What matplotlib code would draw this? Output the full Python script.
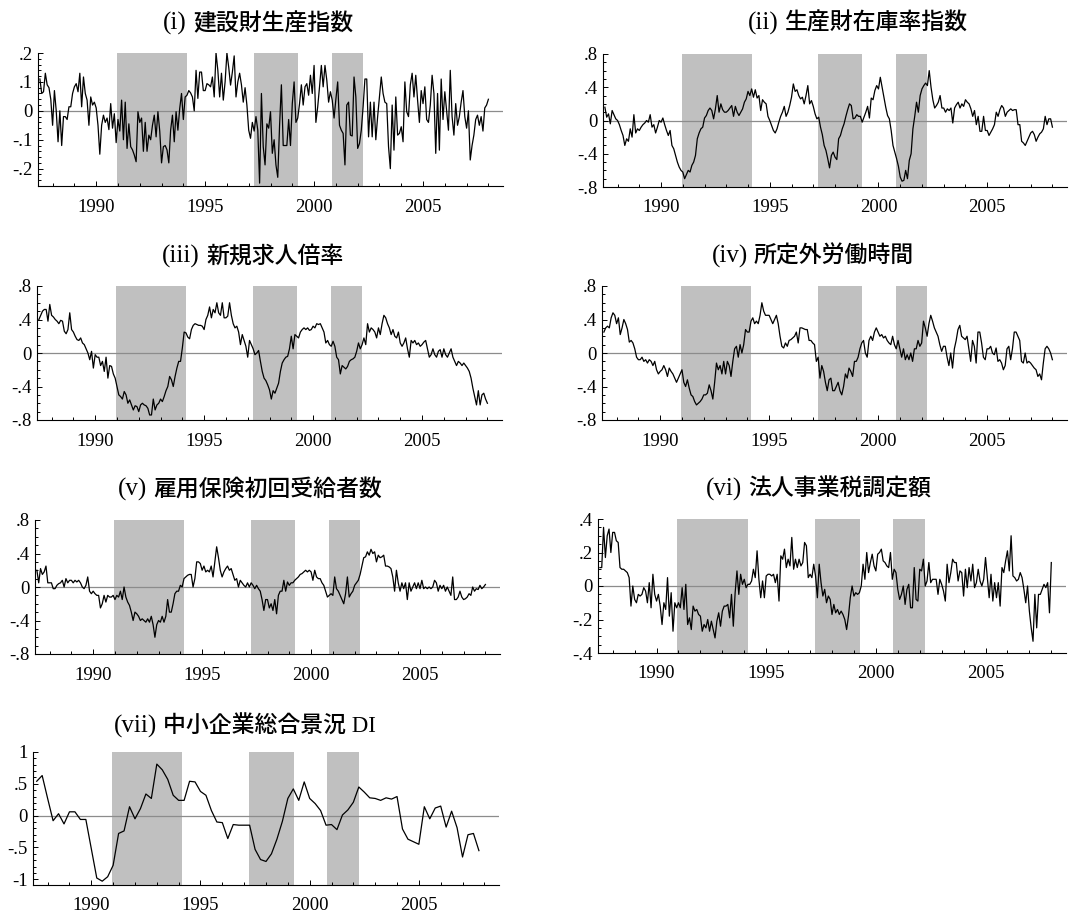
import numpy as np
import matplotlib.pyplot as plt
from matplotlib.ticker import FixedLocator, MultipleLocator, FuncFormatter

plt.rcParams['font.family'] = ['Liberation Serif', 'Noto Sans CJK JP']
plt.rcParams['axes.unicode_minus'] = False

# recession periods, decimal years
recessions = [(1990.95, 1994.16), (1997.24, 1999.26), (2000.80, 2002.24)]

# monthly series, Jun 1987 .. Jan 2008 (one row per calendar year)
construction = [
    0.11, 0.06, 0.066, 0.13, 0.09, 0.08, 0.04,
    -0.05, 0.07, 0.0, -0.107, 0.0, -0.12, -0.02, -0.02, -0.03, 0.014, 0.014, 0.06,
    0.083, 0.094, 0.066, 0.13, 0.014, 0.117, 0.06, 0.037, -0.05, 0.048, 0.02, 0.03,
    0.01, -0.05, -0.15, -0.05, -0.015, -0.04, -0.025, -0.065, 0.025, -0.06, -0.01, -0.11,
    -0.03, -0.07, 0.037, -0.1, 0.03, -0.13, -0.045, -0.124, -0.135, -0.153, -0.176, -0.003,
    -0.04, -0.025, -0.14, -0.04, -0.14, -0.084, -0.1, -0.05, -0.015, -0.09, -0.003, -0.07,
    -0.18, -0.124, -0.12, -0.135, -0.18, -0.067, -0.015, -0.107, -0.003, -0.067, 0.008, 0.06,
    -0.03, 0.048, 0.054, 0.07, 0.062, 0.048, 0.0, 0.14, 0.043, 0.134, 0.134, 0.07,
    0.07, 0.094, 0.09, 0.083, 0.117, 0.048, 0.2, 0.14, 0.048, 0.13, 0.037, 0.1,
    0.2, 0.15, 0.089, 0.134, 0.19, 0.048, 0.10, 0.13, 0.09, 0.03, 0.08, 0.02,
    -0.067, -0.095, -0.04, -0.07, -0.02, -0.067, -0.25, 0.06, -0.124, -0.187, -0.045, -0.06,
    -0.003, -0.147, -0.1, -0.187, -0.23, -0.05, 0.09, -0.12, -0.12, -0.12, -0.03, -0.12,
    0.025, 0.1, -0.04, -0.025, 0.025, 0.09, 0.02, 0.083, 0.094, 0.054, 0.123, 0.06,
    0.157, -0.04, 0.014, 0.083, 0.157, 0.083, 0.157, 0.106, 0.03, 0.066, 0.037, -0.025,
    0.04, 0.1, -0.05, -0.067, -0.078, -0.187, 0.02, 0.03, -0.084, -0.087, 0.117, 0.048,
    -0.13, -0.113, -0.067, 0.014, 0.11, 0.11, -0.09, 0.03, -0.09, 0.03, -0.1, -0.02,
    0.048, 0.117, 0.06, 0.03, 0.025, -0.124, -0.2, 0.02, -0.136, 0.048, -0.084, -0.078,
    -0.055, -0.107, 0.1, -0.003, -0.02, 0.09, 0.13, 0.048, 0.123, 0.037, -0.04, 0.07,
    0.025, 0.083, -0.03, -0.04, 0.02, 0.123, 0.06, -0.147, 0.06, -0.136, 0.11, -0.03,
    0.066, 0.0, -0.067, 0.14, -0.02, -0.084, 0.025, -0.05, -0.02, 0.03, 0.07, -0.02,
    -0.06, 0.0, -0.17, -0.12, -0.084, -0.03, -0.015, -0.05, -0.02, -0.07, 0.01, 0.02,
    0.04,
]

inventory = [
    0.16, 0.04, 0.08, -0.04, 0.12, 0.07, 0.02,
    0.0, -0.05, -0.12, -0.18, -0.3, -0.22, -0.25, -0.1, -0.2, 0.07, -0.15, -0.1,
    -0.12, -0.08, -0.05, -0.03, 0.0, -0.02, 0.07, -0.08, -0.05, -0.15, -0.08, 0.0,
    -0.02, 0.03, -0.05, -0.12, -0.18, -0.12, -0.3, -0.34, -0.42, -0.5, -0.56, -0.6,
    -0.62, -0.7, -0.65, -0.6, -0.62, -0.54, -0.5, -0.42, -0.22, -0.15, -0.1, -0.08,
    0.03, 0.06, 0.12, 0.15, 0.12, 0.02, 0.14, 0.3, 0.1, 0.2, 0.13, 0.1,
    0.1, 0.12, 0.15, 0.18, 0.05, 0.17, 0.1, 0.06, 0.1, 0.14, 0.22, 0.26,
    0.35, 0.3, 0.38, 0.28, 0.37, 0.27, 0.3, 0.12, 0.25, 0.22, 0.2, 0.05,
    0.0, -0.06, -0.12, -0.15, -0.1, -0.02, 0.05, 0.1, 0.17, 0.05, 0.1, 0.18,
    0.28, 0.44, 0.35, 0.37, 0.3, 0.26, 0.28, 0.2, 0.3, 0.42, 0.2, 0.24,
    0.17, 0.08, 0.02, 0.04, -0.08, -0.17, -0.3, -0.36, -0.46, -0.57, -0.42, -0.38,
    -0.44, -0.47, -0.22, -0.18, -0.1, -0.04, 0.05, 0.13, 0.2, 0.18, 0.02, 0.03,
    0.07, 0.05, 0.05, -0.02, 0.04, 0.1, 0.17, 0.03, 0.27, 0.25, 0.36, 0.42,
    0.38, 0.52, 0.4, 0.28, 0.16, 0.06, 0.02, -0.12, -0.3, -0.38, -0.46, -0.55,
    -0.68, -0.73, -0.72, -0.6, -0.7, -0.48, -0.4, -0.1, 0.05, 0.22, 0.1, 0.3,
    0.38, 0.42, 0.45, 0.42, 0.6, 0.4, 0.25, 0.15, 0.18, 0.22, 0.3, 0.15,
    0.15, 0.1, 0.14, 0.12, 0.15, -0.03, 0.15, 0.19, 0.22, 0.15, 0.2, 0.17,
    0.25, 0.22, 0.2, 0.14, 0.05, 0.12, -0.05, 0.05, -0.13, -0.13, 0.05, -0.12,
    -0.12, -0.18, -0.14, -0.1, -0.05, 0.1, 0.05, 0.13, 0.18, 0.15, 0.05, 0.1,
    0.12, 0.14, 0.12, 0.13, 0.13, -0.05, -0.05, -0.25, -0.27, -0.3, -0.25, -0.2,
    -0.15, -0.13, -0.17, -0.25, -0.2, -0.16, -0.14, -0.1, 0.05, -0.05, 0.02, 0.02,
    -0.08,
]

job_offers = [
    0.40, 0.45, 0.50, 0.52, 0.52, 0.38, 0.58,
    0.45, 0.43, 0.40, 0.38, 0.35, 0.39, 0.38, 0.26, 0.23, 0.28, 0.48, 0.28,
    0.25, 0.2, 0.16, 0.15, 0.18, 0.12, 0.1, 0.05, 0.0, -0.08, 0.02, -0.18,
    -0.02, -0.05, -0.05, -0.15, -0.1, -0.22, -0.05, -0.3, -0.15, -0.16, -0.25, -0.3,
    -0.4, -0.5, -0.52, -0.55, -0.46, -0.5, -0.6, -0.56, -0.62, -0.68, -0.63, -0.64,
    -0.7, -0.62, -0.6, -0.62, -0.63, -0.66, -0.74, -0.74, -0.55, -0.68, -0.62, -0.6,
    -0.55, -0.58, -0.52, -0.45, -0.4, -0.28, -0.32, -0.4, -0.28, -0.18, -0.1, -0.1,
    0.06, 0.25, 0.24, 0.19, 0.17, 0.28, 0.33, 0.35, 0.34, 0.33, 0.33, 0.32,
    0.28, 0.4, 0.45, 0.55, 0.42, 0.52, 0.48, 0.6, 0.48, 0.45, 0.6, 0.42,
    0.42, 0.44, 0.6, 0.45, 0.35, 0.3, 0.32, 0.25, 0.1, 0.22, 0.15, 0.08,
    -0.05, 0.15, 0.1, 0.05, -0.02, 0.0, 0.03, -0.1, -0.22, -0.3, -0.33, -0.38,
    -0.44, -0.55, -0.45, -0.48, -0.42, -0.36, -0.22, -0.12, -0.08, -0.05, -0.04, 0.05,
    0.2, 0.05, 0.22, 0.2, 0.18, 0.25, 0.28, 0.3, 0.28, 0.3, 0.27, 0.28,
    0.32, 0.3, 0.35, 0.34, 0.35, 0.3, 0.25, 0.12, 0.15, 0.1, 0.08, 0.14,
    0.08, -0.05, -0.08, -0.25, -0.15, -0.17, -0.19, -0.16, -0.1, -0.08, -0.07, -0.05,
    0.02, 0.12, 0.05, 0.1, 0.18, 0.1, 0.35, 0.25, 0.3, 0.28, 0.25, 0.18,
    0.3, 0.22, 0.35, 0.45, 0.42, 0.35, 0.3, 0.22, 0.28, 0.2, 0.18, 0.25,
    0.12, 0.08, 0.12, 0.18, 0.05, -0.05, 0.15, 0.12, 0.15, 0.1, 0.12, 0.08,
    0.1, 0.13, 0.15, 0.05, -0.05, -0.02, 0.05, -0.02, -0.05, 0.02, 0.04, -0.05,
    0.05, -0.02, -0.05, 0.0, 0.05, -0.05, -0.1, -0.15, -0.1, -0.12, -0.15, -0.12,
    -0.15, -0.18, -0.22, -0.3, -0.42, -0.52, -0.62, -0.45, -0.62, -0.5, -0.48, -0.55,
    -0.6,
]

overtime = [
    0.25, 0.3, 0.32, 0.3, 0.42, 0.48, 0.45,
    0.35, 0.42, 0.22, 0.3, 0.4, 0.35, 0.28, 0.13, 0.15, 0.12, 0.05, -0.05,
    -0.08, -0.08, -0.05, -0.1, -0.08, -0.12, -0.08, -0.1, -0.15, -0.1, -0.2, -0.25,
    -0.22, -0.2, -0.15, -0.2, -0.28, -0.18, -0.22, -0.25, -0.3, -0.35, -0.3, -0.25,
    -0.2, -0.35, -0.4, -0.32, -0.42, -0.5, -0.52, -0.58, -0.62, -0.6, -0.58, -0.55,
    -0.5, -0.5, -0.48, -0.38, -0.45, -0.55, -0.35, -0.12, -0.2, -0.15, -0.25, -0.1,
    -0.25, -0.1, -0.15, -0.28, -0.1, 0.05, 0.08, -0.05, 0.1, 0.0, 0.1, 0.28,
    0.25, 0.25, 0.38, 0.42, 0.35, 0.38, 0.35, 0.45, 0.6, 0.5, 0.45, 0.45,
    0.45, 0.4, 0.35, 0.4, 0.45, 0.35, 0.2, 0.08, 0.06, 0.12, 0.08, 0.15,
    0.16, 0.18, 0.2, 0.25, 0.12, 0.3, 0.3, 0.29, 0.28, 0.28, 0.15, 0.15,
    0.12, 0.1, -0.1, -0.05, -0.3, -0.15, -0.22, -0.35, -0.45, -0.32, -0.3, -0.45,
    -0.45, -0.4, -0.35, -0.45, -0.5, -0.4, -0.25, -0.3, -0.18, -0.22, -0.28, -0.1,
    -0.1, -0.05, 0.05, 0.12, 0.15, 0.0, -0.05, 0.15, 0.2, 0.15, 0.25, 0.3,
    0.25, 0.2, 0.22, 0.18, 0.2, 0.15, 0.12, 0.1, 0.2, 0.1, 0.05, 0.15,
    0.05, -0.05, 0.05, -0.08, -0.02, -0.08, 0.0, -0.1, 0.05, 0.05, 0.15, 0.08,
    0.12, 0.38, 0.3, 0.2, 0.35, 0.45, 0.38, 0.3, 0.25, 0.2, 0.1, 0.02,
    0.08, 0.08, -0.05, -0.15, 0.0, -0.18, 0.05, 0.15, 0.28, 0.33, 0.2, 0.18,
    0.16, 0.2, 0.05, -0.1, 0.15, 0.08, -0.12, 0.25, 0.25, 0.12, -0.05, -0.08,
    0.05, 0.05, 0.08, 0.0, -0.02, 0.06, -0.1, -0.08, -0.12, -0.2, -0.15, 0.05,
    0.08, -0.08, 0.05, 0.25, 0.25, 0.2, 0.15, -0.1, -0.12, 0.0, -0.12, -0.1,
    -0.12, -0.15, -0.18, -0.2, -0.28, -0.25, -0.32, -0.12, 0.05, 0.08, 0.05, 0.0,
    -0.08,
]

insurance = [
    0.2, 0.05, 0.22, 0.15, 0.18, 0.25, 0.05,
    0.05, 0.05, -0.02, -0.02, 0.02, 0.04, 0.05, 0.08, 0.0, 0.1, 0.05, 0.08,
    0.08, 0.05, 0.08, 0.06, 0.08, 0.05, 0.0, -0.02, 0.02, 0.12, -0.05, -0.08,
    -0.05, -0.08, -0.1, -0.1, -0.25, -0.2, -0.1, -0.18, -0.1, -0.12, -0.12, -0.1,
    -0.15, -0.1, -0.12, -0.05, -0.15, 0.0, -0.12, -0.18, -0.22, -0.3, -0.4, -0.3,
    -0.32, -0.35, -0.4, -0.38, -0.4, -0.42, -0.38, -0.42, -0.35, -0.45, -0.6, -0.45,
    -0.4, -0.42, -0.35, -0.42, -0.35, -0.15, -0.3, -0.3, -0.2, -0.08, -0.05, -0.05,
    0.02, 0.0, 0.1, 0.12, 0.14, 0.15, 0.15, 0.0, 0.1, 0.3, 0.3, 0.28,
    0.2, 0.25, 0.18, 0.2, 0.18, 0.25, 0.12, 0.3, 0.48, 0.35, 0.2, 0.12,
    0.18, 0.22, 0.25, 0.2, 0.22, 0.15, 0.08, 0.1, 0.0, 0.08, 0.05, 0.02,
    0.0, 0.05, 0.0, 0.05, 0.02, -0.02, 0.02, -0.02, -0.05, -0.15, -0.28, -0.15,
    -0.15, -0.25, -0.2, -0.28, -0.15, -0.32, -0.1, -0.05, -0.05, 0.08, -0.05, 0.06,
    0.02, 0.05, 0.05, 0.08, 0.1, 0.12, 0.15, 0.16, 0.18, 0.2, 0.18, 0.2,
    0.18, 0.08, 0.2, 0.12, 0.1, 0.1, 0.05, 0.02, -0.05, -0.12, -0.1, -0.08,
    -0.1, 0.12, -0.02, -0.05, -0.1, -0.15, -0.2, -0.08, 0.12, -0.12, -0.08, -0.05,
    0.02, 0.05, 0.08, 0.15, 0.25, 0.35, 0.36, 0.42, 0.38, 0.45, 0.4, 0.42,
    0.3, 0.38, 0.35, 0.36, 0.38, 0.25, 0.25, 0.24, 0.22, 0.12, -0.05, 0.2,
    0.05, -0.05, 0.05, -0.02, 0.05, -0.15, 0.05, -0.05, 0.0, 0.05, -0.02, 0.05,
    -0.02, 0.08, -0.02, 0.0, -0.02, 0.0, -0.02, 0.0, 0.08, 0.05, -0.05, 0.02,
    -0.02, 0.02, -0.05, 0.0, -0.05, -0.1, 0.12, -0.15, -0.15, -0.12, -0.05, -0.12,
    -0.15, -0.14, -0.12, -0.08, -0.1, 0.0, -0.05, -0.02, -0.03, 0.02, -0.02, 0.0,
    0.03,
]

corp_tax = [
    0.11, 0.11, 0.35, 0.17, 0.30, 0.34, 0.20,
    0.32, 0.32, 0.27, 0.26, 0.11, 0.10, 0.10, 0.09, 0.08, 0.05, -0.12, 0.0,
    -0.08, -0.10, -0.05, -0.06, -0.05, -0.01, -0.03, -0.10, 0.02, -0.13, 0.07, -0.05,
    -0.09, -0.05, -0.12, -0.23, -0.10, -0.14, 0.05, -0.18, -0.04, -0.27, -0.10, -0.13,
    -0.10, -0.13, -0.01, -0.14, 0.01, -0.23, -0.19, -0.26, -0.12, -0.15, -0.14, -0.17,
    -0.18, -0.27, -0.23, -0.25, -0.20, -0.27, -0.21, -0.26, -0.31, -0.21, -0.16, -0.24,
    -0.15, -0.12, -0.12, -0.11, -0.19, -0.05, -0.24, -0.04, 0.09, -0.05, 0.07, 0.01,
    0.04, -0.01, 0.01, 0.01, 0.03, 0.10, 0.05, 0.21, 0.04, -0.07, 0.03, -0.07,
    0.06, 0.07, 0.07, 0.06, 0.07, 0.02, 0.07, -0.09, 0.18, 0.16, 0.22, 0.11,
    0.16, 0.12, 0.29, 0.10, 0.16, 0.11, 0.16, 0.12, 0.14, 0.26, 0.24, 0.05,
    0.07, 0.05, 0.13, 0.06, -0.07, 0.13, 0.02, -0.06, -0.02, -0.1, -0.06, -0.08,
    -0.17, -0.11, -0.16, -0.14, -0.17, -0.15, -0.17, -0.2, -0.26, -0.18, -0.07, 0.0,
    -0.06, -0.04, -0.05, -0.04, 0.0, 0.13, 0.04, 0.2, 0.08, 0.14, 0.19, 0.12,
    0.09, 0.19, 0.2, 0.22, 0.15, 0.14, 0.12, 0.11, 0.2, 0.04, 0.1, 0.08,
    -0.02, -0.08, -0.05, 0.0, -0.11, -0.02, 0.01, -0.13, -0.13, 0.11, -0.08, -0.09,
    0.1, 0.09, 0.16, 0.0, 0.03, 0.14, 0.02, 0.04, 0.04, 0.04, -0.05, 0.04,
    0.01, -0.03, -0.09, 0.13, 0.02, 0.08, 0.16, 0.14, 0.14, 0.03, 0.09, 0.08,
    -0.06, 0.1, -0.01, 0.11, 0.03, 0.13, -0.01, 0.02, 0.1, 0.03, 0.0, 0.04,
    0.17, 0.05, -0.07, 0.07, -0.09, 0.02, -0.07, 0.02, -0.12, 0.11, 0.08, 0.15,
    0.21, 0.09, 0.30, 0.06, 0.05, 0.03, 0.04, 0.08, 0.05, -0.02, -0.1, 0.0,
    -0.15, -0.25, -0.33, -0.05, -0.25, -0.05, -0.05, -0.02, 0.01, -0.01, 0.02, -0.16,
    0.14,
]

# quarterly series from 1987 Q3
sme_di = [
    0.54, 0.63, 0.27, -0.08, 0.03, -0.13, 0.06, 0.06, -0.06, -0.06,
    -0.52, -0.98, -1.03, -0.96, -0.78, -0.28, -0.24, 0.14, -0.05, 0.11,
    0.34, 0.27, 0.81, 0.72, 0.57, 0.32, 0.24, 0.24, 0.54, 0.53,
    0.38, 0.32, 0.08, -0.10, -0.11, -0.36, -0.14, -0.15, -0.15, -0.15,
    -0.53, -0.69, -0.72, -0.60, -0.37, -0.09, 0.27, 0.42, 0.24, 0.53,
    0.27, 0.19, 0.08, -0.15, -0.14, -0.22, 0.01, 0.09, 0.21, 0.45,
    0.37, 0.28, 0.27, 0.24, 0.28, 0.26, 0.30, -0.21, -0.37, -0.41,
    -0.45, 0.14, -0.05, 0.12, 0.15, -0.18, 0.07, -0.19, -0.65, -0.30,
    -0.28, -0.55,
]

numerals = ['(i)', '(ii)', '(iii)', '(iv)', '(v)', '(vi)', '(vii)']
names = ['建設財生産指数', '生産財在庫率指数', '新規求人倍率', '所定外労働時間',
         '雇用保険初回受給者数', '法人事業税調定額', '中小企業総合景況 DI']


def monthly(vals):
    return 1987 + 5 / 12 + np.arange(len(vals)) / 12


def quarterly(vals):
    return 1987.5 + np.arange(len(vals)) / 4


def short_label(v, pos):
    s = '%g' % round(v, 3)
    return s.replace('0.', '.')


W, H = 1090, 917
fig = plt.figure(figsize=(W / 100, H / 100), dpi=100)

# (series, x, ylim, major, minor, axes box l/t/r/b px, title split x / baseline px)
panels = [
    (construction, monthly, (-0.26, 0.2), 0.1, 0.02, (38, 53, 503, 186), (193, 30)),
    (inventory, monthly, (-0.8, 0.8), 0.4, 0.1, (603, 54, 1067, 187), (785, 30)),
    (job_offers, monthly, (-0.8, 0.8), 0.4, 0.1, (37, 286, 502, 420), (206, 263)),
    (overtime, monthly, (-0.8, 0.8), 0.4, 0.1, (602, 286, 1067, 420), (754, 263)),
    (insurance, monthly, (-0.8, 0.8), 0.4, 0.1, (35, 520, 500, 654), (153, 496)),
    (corp_tax, monthly, (-0.4, 0.4), 0.2, 0.05, (598, 519, 1066, 653), (748, 496)),
    (sme_di, quarterly, (-1.09, 1.0), 0.5, 0.1, (33, 752, 499, 885), (163, 733)),
]

for num, name, (vals, xfun, ylim, major, minor, box, tpos) in zip(numerals, names, panels):
    l, t, r, b = box
    ax = fig.add_axes([l / W, 1 - b / H, (r - l) / W, (b - t) / H])
    for a, e in recessions:
        ax.axvspan(a, e, color='#c0c0c0', lw=0, zorder=0)
    ax.axhline(0, color='#8c8c8c', lw=0.9, zorder=1)
    ax.plot(xfun(vals), vals, color='black', lw=0.9, zorder=2)

    ax.set_xlim(1987.33, 2008.67)
    ax.set_ylim(*ylim)
    ax.xaxis.set_major_locator(FixedLocator([1990, 1995, 2000, 2005]))
    ax.xaxis.set_minor_locator(MultipleLocator(1))
    ax.yaxis.set_major_locator(MultipleLocator(major))
    ax.yaxis.set_minor_locator(MultipleLocator(minor))
    ax.yaxis.set_major_formatter(FuncFormatter(short_label))
    ax.xaxis.set_major_formatter(FuncFormatter(lambda v, p: '%d' % v))

    for side in ['top', 'right']:
        ax.spines[side].set_visible(False)
    for side in ['left', 'bottom']:
        ax.spines[side].set_linewidth(0.8)
    ax.tick_params(which='both', direction='in', width=0.7, labelsize=13.5)
    ax.tick_params(which='major', length=3.5)
    ax.tick_params(which='minor', length=2)
    ax.tick_params(axis='x', which='major', pad=9)
    ax.tick_params(axis='y', which='major', pad=4)

    # roman numeral in serif, series name in gothic (latin letters stay serif)
    x0, y0 = tpos[0] / W, 1 - tpos[1] / H
    fig.text(x0 - 6 / W, y0, num, ha='right', va='baseline', fontsize=18,
             family='Liberation Serif')
    fig.text(x0, y0, name, ha='left', va='baseline', fontsize=16.5,
             fontweight='medium')

fig.savefig('out.png', dpi=100)
